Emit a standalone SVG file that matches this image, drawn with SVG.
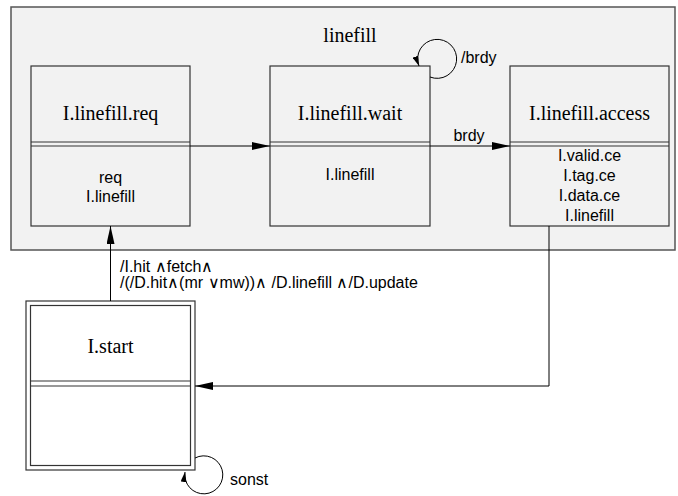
<svg xmlns="http://www.w3.org/2000/svg" width="678" height="496" viewBox="0 0 678 496">
<style>
.box{fill:#f2f2f2;stroke:#333;stroke-width:1.2}
.div{stroke:#333;stroke-width:1.2;fill:none}
.title{font-family:"Liberation Serif",serif;font-size:20px;fill:#000;text-anchor:middle}
.body{font-family:"Liberation Sans",sans-serif;font-size:16px;fill:#000;text-anchor:middle}
.lbl{font-family:"Liberation Sans",sans-serif;font-size:16px;fill:#000}
.edge{stroke:#000;stroke-width:1;fill:none}
</style>
<defs>
<marker id="ah" viewBox="0 0 18 8" refX="18" refY="4" markerWidth="18" markerHeight="8" markerUnits="userSpaceOnUse" orient="auto">
<path d="M0,0 L18,4 L0,8 Z" fill="#000"/>
</marker>
<marker id="ahs" viewBox="0 0 10 6" refX="10" refY="3" markerWidth="10" markerHeight="6" markerUnits="userSpaceOnUse" orient="auto">
<path d="M0,0 L10,3 L0,6 Z" fill="#000"/>
</marker>
</defs>
<g id="linefill">
<rect x="11" y="7" width="664" height="243" fill="#f2f2f2" stroke="#555" stroke-width="1.5"/>
<text class="title" x="350" y="42">linefill</text>
</g>
<g id="req">
<rect class="box" x="31" y="66" width="159" height="160"/>
<path class="div" d="M31,142H190M31,146H190"/>
<text class="title" x="110.5" y="120">I.linefill.req</text>
<text class="body" x="110.5" y="183">req</text>
<text class="body" x="110.5" y="202">I.linefill</text>
</g>
<g id="wait">
<rect class="box" x="270" y="66" width="160" height="160"/>
<path class="div" d="M270,142H430M270,146H430"/>
<text class="title" x="350" y="120">I.linefill.wait</text>
<text class="body" x="350" y="180">I.linefill</text>
</g>
<g id="access">
<rect class="box" x="510" y="66" width="159" height="160"/>
<path class="div" d="M510,142H669M510,146H669"/>
<text class="title" x="589.5" y="120">I.linefill.access</text>
<text class="body" x="589.5" y="161">I.valid.ce</text>
<text class="body" x="589.5" y="181">I.tag.ce</text>
<text class="body" x="589.5" y="201">I.data.ce</text>
<text class="body" x="589.5" y="221">I.linefill</text>
</g>
<g id="start">
<rect x="26" y="301" width="169" height="169" fill="#fff" stroke="#333" stroke-width="1.2"/>
<rect x="30.5" y="305.5" width="160" height="160" fill="#fff" stroke="#333" stroke-width="1.2"/>
<path class="div" d="M30.5,381H190.5M30.5,386H190.5"/>
<text class="title" x="110.5" y="353">I.start</text>
</g>
<g id="connectors">
<path class="edge" d="M190,146H270" marker-end="url(#ah)"/>
<path class="edge" d="M430,146H510" marker-end="url(#ah)"/>
<text class="lbl" x="469" y="141" text-anchor="middle">brdy</text>
<path class="edge" d="M430,77 A19.5,19.5 0 1 0 419,66" marker-end="url(#ahs)"/>
<text class="lbl" x="461" y="63">/brdy</text>
<path class="edge" d="M549,226V386H195" marker-end="url(#ah)"/>
<path class="edge" d="M110.5,301V226" marker-end="url(#ah)"/>
<text class="lbl" x="120" y="272">/I.hit ∧fetch∧</text>
<text class="lbl" x="120" y="288">/(/D.hit∧(mr ∨mw))∧ /D.linefill ∧/D.update</text>
<path class="edge" d="M195,458 A19,19 0 1 1 185,472" marker-end="url(#ahs)"/>
<text class="lbl" x="230" y="485">sonst</text>
</g>
</svg>
